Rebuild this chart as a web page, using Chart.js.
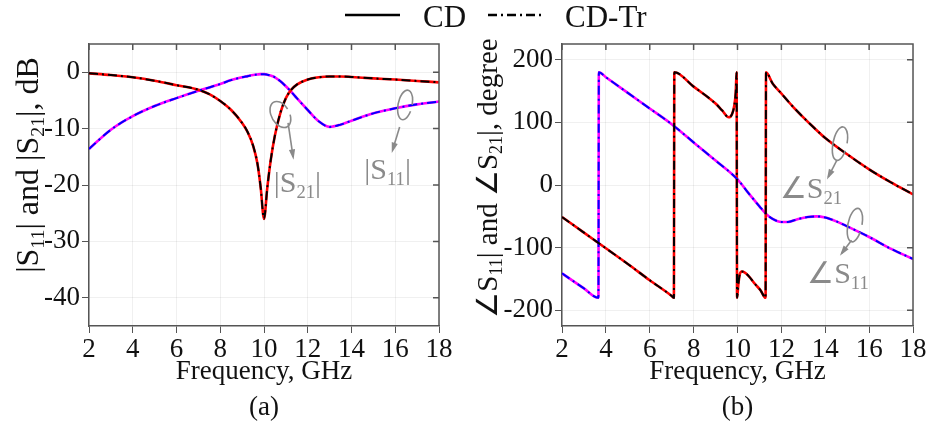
<!DOCTYPE html>
<html>
<head>
<meta charset="utf-8">
<script src="https://cdn.jsdelivr.net/npm/chart.js@4.4.1/dist/chart.umd.min.js"></script>
<style>
  body { margin: 0; background: #fff; width: 930px; height: 432px; position: relative; overflow: hidden; }
  .box { position: absolute; top: 0; width: 465px; height: 432px; }
  #legend { position: absolute; top: 0; left: 0; font-family: "Liberation Serif", "Times New Roman", serif; }
</style>
</head>
<body>
<div class="box" style="left:0"><canvas id="chartA"></canvas></div>
<div class="box" style="left:465px"><canvas id="chartB"></canvas></div>
<svg id="legend" width="930" height="34">
  <line x1="345" y1="15" x2="400" y2="15" stroke="#000" stroke-width="2.5"/>
  <text x="423" y="27" font-size="31" fill="#111" font-family="Liberation Serif">CD</text>
  <line x1="488" y1="15" x2="545" y2="15" stroke="#000" stroke-width="2.5" stroke-dasharray="9,4,2,4"/>
  <text x="565" y="27" font-size="31" fill="#111" font-family="Liberation Serif">CD-Tr</text>
</svg>
<script>
// ---- data ----
const freqTicks = [2, 4, 6, 8, 10, 12, 14, 16, 18];
const magTicks = [-40, -30, -20, -10, 0];
const phaseTicks = [-200, -100, 0, 100, 200];

// (a) magnitude, dB
const freqMag = [2, 3, 4, 5, 6, 7, 7.5, 8, 8.5, 9, 9.25, 9.5, 9.7, 9.85, 10, 10.15, 10.3, 10.5, 10.75, 11, 11.25, 11.5, 12, 12.5, 13, 13.5, 14, 15, 16, 17, 18];
const cdS21Mag = [-0.2, -0.5, -0.9, -1.5, -2.3, -3.1, -3.9, -5.1, -6.7, -9.0, -10.6, -13.0, -16.2, -20.5, -26.0, -20.5, -15.8, -11.2, -7.2, -4.6, -3.1, -2.2, -1.3, -0.9, -0.75, -0.75, -0.85, -1.1, -1.3, -1.55, -1.8];
const cdS11Mag = [-13.6, -10.2, -7.8, -6.0, -4.6, -3.3, -2.7, -2.1, -1.4, -0.9, -0.7, -0.5, -0.4, -0.35, -0.35, -0.45, -0.6, -0.9, -1.6, -2.5, -3.5, -4.6, -6.7, -8.7, -9.7, -9.3, -8.6, -7.3, -6.4, -5.7, -5.2];
// CD-Tr lies on top of CD everywhere
const trS21Mag = cdS21Mag;
const trS11Mag = cdS11Mag;

// (b) phase, degree
const freqS21Ph = [2, 3, 4, 5, 6, 7, 7.1, 7.12, 8, 9, 9.3, 9.6, 9.75, 9.85, 9.92, 9.96, 9.98, 10.04, 10.1, 10.2, 10.3, 10.5, 10.8, 11.05, 11.28, 11.3, 11.6, 12, 12.5, 13, 13.5, 14, 15, 16, 17, 18];
const cdS21Ph = [-51, -76, -101, -126, -152, -177, -180, 180, 157, 130, 119, 108, 113, 126, 148, 180, -180, -158, -143, -138, -139, -145, -158, -168, -180, 180, 162, 146, 126, 108, 91, 75, 49, 25, 4, -15];
const freqS11Ph = [2, 3, 3.66, 3.68, 4, 5, 6, 7, 8, 9, 10, 10.5, 11, 11.3, 11.6, 12, 12.3, 12.7, 13.2, 13.6, 14, 14.5, 15, 16, 17, 18];
const cdS11Ph = [-141, -165, -180, 180, 172, 147, 122, 97, 68, 39, 9, -13, -34, -46, -54, -59, -59, -55, -51, -50, -52, -58, -66, -83, -102, -118];
const trS21Ph = cdS21Ph;
const trS11Ph = cdS11Ph;

const FONT = '"Liberation Serif", "Times New Roman", serif';
const axisColor = '#555';
const gray = '#8a8a8a';

function pts(xs, ys) { return xs.map((x, i) => ({ x: x, y: ys[i] })); }

function solid(data, color) {
  return { data, borderColor: color, borderWidth: 2.6, pointRadius: 0, cubicInterpolationMode: 'monotone', order: 2 };
}
function dashed(data, color) {
  return { data, borderColor: color, borderWidth: 2, borderDash: [9, 4, 2, 4], pointRadius: 0, cubicInterpolationMode: 'monotone', order: 1 };
}

// text with subscripts, centred on x, baseline y
function drawRich(ctx, parts, x, y, size, color) {
  const sub = size * 0.62;
  let w = 0;
  parts.forEach(p => { ctx.font = (p[1] ? sub : size) + 'px ' + FONT; w += ctx.measureText(p[0]).width; });
  let cx = x - w / 2;
  ctx.fillStyle = color;
  ctx.textAlign = 'left';
  ctx.textBaseline = 'alphabetic';
  parts.forEach(p => {
    ctx.font = (p[1] ? sub : size) + 'px ' + FONT;
    ctx.fillText(p[0], cx, p[1] ? y + size * 0.2 : y);
    cx += ctx.measureText(p[0]).width;
  });
}

function curl(ctx, x, y, rx, ry, rot) {
  ctx.beginPath();
  ctx.ellipse(x, y, rx, ry, rot, 0.35, Math.PI * 2 - 0.1);
  ctx.stroke();
}

function arrow(ctx, x1, y1, x2, y2) {
  ctx.beginPath();
  ctx.moveTo(x1, y1);
  ctx.lineTo(x2, y2);
  ctx.stroke();
  const a = Math.atan2(y2 - y1, x2 - x1);
  ctx.beginPath();
  ctx.moveTo(x2 + 3 * Math.cos(a), y2 + 3 * Math.sin(a));
  ctx.lineTo(x2 - 8 * Math.cos(a - 0.4), y2 - 8 * Math.sin(a - 0.4));
  ctx.lineTo(x2 - 8 * Math.cos(a + 0.4), y2 - 8 * Math.sin(a + 0.4));
  ctx.closePath();
  ctx.fill();
}

// frame, inward mirror ticks, y title and gray labels
const decor = {
  id: 'decor',
  afterDraw(chart) {
    const { ctx, chartArea: a, scales: { x, y } } = chart;
    const o = chart.options.plugins.decor;
    ctx.save();
    ctx.strokeStyle = axisColor;
    ctx.lineWidth = 1.5;
    ctx.beginPath();
    ctx.moveTo(a.left, a.top); ctx.lineTo(a.right, a.top); ctx.lineTo(a.right, a.bottom);
    x.ticks.forEach(t => { const px = x.getPixelForValue(t.value); ctx.moveTo(px, a.top); ctx.lineTo(px, a.top + 6); });
    y.ticks.forEach(t => { const py = y.getPixelForValue(t.value); ctx.moveTo(a.right, py); ctx.lineTo(a.right - 6, py); });
    ctx.stroke();

    // y axis title
    ctx.save();
    ctx.translate(o.titleX, o.titleY);
    ctx.rotate(-Math.PI / 2);
    drawRich(ctx, o.title, 0, o.titleSize * 0.33, o.titleSize, '#111');
    ctx.restore();

    // annotations
    ctx.strokeStyle = gray;
    ctx.fillStyle = gray;
    ctx.lineWidth = 1.6;
    o.notes.forEach(n => {
      const X = v => x.getPixelForValue(v), Y = v => y.getPixelForValue(v);
      curl(ctx, X(n.loop[0]), Y(n.loop[1]), n.loop[2], n.loop[3], n.loop[4]);
      arrow(ctx, X(n.from[0]), Y(n.from[1]), X(n.to[0]), Y(n.to[1]));
      drawRich(ctx, n.text, X(n.at[0]), Y(n.at[1]) + 30 * 0.33, 30, gray);
    });
    ctx.restore();
  }
};

function makeChart(id, datasets, yMin, yMax, yTicks, yWidth, padRight, label, deco) {
  return new Chart(document.getElementById(id), {
    type: 'line',
    data: { datasets },
    plugins: [decor],
    options: {
      responsive: true,
      maintainAspectRatio: false,
      animation: false,
      layout: { padding: { top: 44, right: padRight, left: 0, bottom: 0 } },
      plugins: { legend: { display: false }, tooltip: { enabled: false }, decor: deco },
      scales: {
        x: {
          type: 'linear', min: 2, max: 18,
          afterBuildTicks: s => { s.ticks = freqTicks.map(v => ({ value: v })); },
          afterFit: s => { s.height = 106; },
          grid: { color: 'rgba(0,0,0,0.06)', tickColor: axisColor, tickLength: 7 },
          border: { color: axisColor, width: 1.5 },
          ticks: { font: { family: FONT, size: 27 }, color: '#111', padding: 1, maxRotation: 0 },
          title: { display: true, text: ['Frequency, GHz', label], font: { family: FONT, size: 27, lineHeight: 1.3 }, color: '#111', padding: { top: 0, bottom: 7 } }
        },
        y: {
          min: yMin, max: yMax,
          afterBuildTicks: s => { s.ticks = yTicks.map(v => ({ value: v })); },
          afterFit: s => { s.width = yWidth; },
          grid: { color: 'rgba(0,0,0,0.06)', tickColor: axisColor, tickLength: 7 },
          border: { color: axisColor, width: 1.5 },
          ticks: { font: { family: FONT, size: 27 }, color: '#111', padding: 2 }
        }
      }
    }
  });
}

makeChart('chartA', [
  solid(pts(freqMag, cdS21Mag), '#ff0000'),
  solid(pts(freqMag, cdS11Mag), '#ff00ff'),
  dashed(pts(freqMag, trS21Mag), '#000000'),
  dashed(pts(freqMag, trS11Mag), '#0000ff')
], -45, 5, magTicks, 89, 26, '(a)', {
  titleX: 27, titleY: 165, titleSize: 32,
  title: [['|S', 0], ['11', 1], ['| and |S', 0], ['21', 1], ['|, dB', 0]],
  notes: [
    { loop: [10.75, -7.5, 9, 14, -0.5], from: [11.1, -9], to: [11.33, -15], at: [11.53, -19.5], text: [['|S', 0], ['21', 1], ['|', 0]] },
    { loop: [16.45, -5.8, 7, 15, 0.2], from: [16.2, -9.7], to: [15.88, -13.8], at: [15.65, -17.1], text: [['|S', 0], ['11', 1], ['|', 0]] }
  ]
});

makeChart('chartB', [
  solid(pts(freqS21Ph, cdS21Ph), '#ff0000'),
  solid(pts(freqS11Ph, cdS11Ph), '#ff00ff'),
  dashed(pts(freqS21Ph, trS21Ph), '#000000'),
  dashed(pts(freqS11Ph, trS11Ph), '#0000ff')
], -225, 225, phaseTicks, 97, 17, '(b)', {
  titleX: 22, titleY: 178, titleSize: 29,
  title: [['\u2220S', 0], ['11', 1], ['| and \u2220S', 0], ['21', 1], ['|, degree', 0]],
  notes: [
    { loop: [14.67, 66, 7, 17, 0.2], from: [14.52, 39], to: [14.14, 13], at: [13.35, -5], text: [['\u2220S', 0], ['21', 1]] },
    { loop: [15.35, -64, 7, 17, 0.2], from: [15.2, -88], to: [14.75, -109], at: [14.58, -141], text: [['\u2220S', 0], ['11', 1]] }
  ]
});
</script>
</body>
</html>
